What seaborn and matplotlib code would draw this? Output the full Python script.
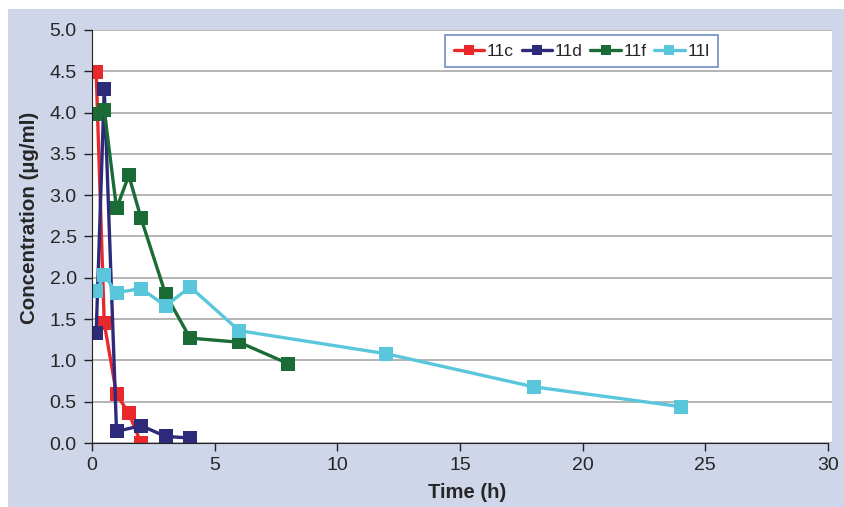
import pandas as pd
import seaborn as sns
import matplotlib.pyplot as plt
from matplotlib.patches import Rectangle

# concentration-time data
t_11c = [0.17, 0.5, 1, 1.5, 2]
c_11c = [4.49, 1.45, 0.59, 0.36, 0.0]

t_11d = [0.17, 0.5, 1, 2, 3, 4]
c_11d = [1.33, 4.29, 0.14, 0.21, 0.08, 0.06]

t_11f = [0.17, 0.5, 1, 1.5, 2, 3, 4, 6, 8]
c_11f = [3.98, 4.03, 2.84, 3.24, 2.72, 1.80, 1.27, 1.22, 0.96]

t_11l = [0.17, 0.5, 1, 2, 3, 4, 6, 12, 18, 24]
c_11l = [1.84, 2.03, 1.82, 1.87, 1.66, 1.89, 1.36, 1.08, 0.68, 0.44]

names = ['11c', '11d', '11f', '11l']
colors = ['#e8282b', '#2e2a7a', '#1b6b36', '#5ac6dc']

frames = []
for name, t, c in zip(names, [t_11c, t_11d, t_11f, t_11l], [c_11c, c_11d, c_11f, c_11l]):
    frames.append(pd.DataFrame({'time': t, 'conc': c, 'compound': name}))
df = pd.concat(frames, ignore_index=True)

sns.set_style('white')
plt.rcParams['font.family'] = ['Liberation Sans', 'DejaVu Sans']

fig = plt.figure(figsize=(8.45, 5.07), dpi=100, facecolor='white')
fig.patches.append(Rectangle((8 / 845, 0), 1, 1 - 9 / 507, transform=fig.transFigure,
                             facecolor='#cfd6e9', edgecolor='none', zorder=-10))
ax = fig.add_axes([92 / 845, 64 / 507, 740 / 845, 413 / 507])

sns.lineplot(data=df, x='time', y='conc', hue='compound', palette=colors,
             style='compound', markers=['s'] * 4, dashes=False,
             markersize=9.5, markeredgewidth=0, linewidth=2.4, ax=ax)

ax.set_xlim(0, 30 * 740 / 736)
ax.set_ylim(0, 5.0)
ax.set_xticks(range(0, 31, 5))
ax.set_yticks([i * 0.5 for i in range(11)])
ax.set_yticklabels([f'{i * 0.5:.1f}' for i in range(11)])
ax.yaxis.grid(True, color='#a8a8a8', linewidth=1.2)
ax.set_axisbelow(True)

for s in ['top', 'right']:
    ax.spines[s].set_visible(False)
ax.spines['left'].set_color('#222222')
ax.spines['bottom'].set_color('#222222')
ax.spines['bottom'].set_bounds(0, 30)
ax.tick_params(axis='both', direction='out', length=6, width=1, color='#222222',
               labelsize=14, left=True, bottom=True)
ax.tick_params(axis='y', pad=5)
ax.tick_params(axis='x', pad=4)

ax.set_xlabel('Time (h)', fontsize=14.6, fontweight='bold')
ax.xaxis.set_label_coords(0.507, -0.097)
ax.set_ylabel('Concentration (µg/ml)', fontsize=14.8, fontweight='bold')
ax.yaxis.set_label_coords(-0.072, 0.545)

leg = ax.legend(loc='upper right', bbox_to_anchor=(0.846, 0.988), borderaxespad=0,
                ncol=4, fontsize=12.5, frameon=True, fancybox=False,
                handlelength=1.75, handletextpad=0.15, columnspacing=0.45,
                borderpad=0.5, markerscale=0.75)
leg.get_frame().set_edgecolor('#4a6fb5')
leg.get_frame().set_linewidth(1.2)

plt.savefig('out.png', dpi=100, facecolor=fig.get_facecolor())
